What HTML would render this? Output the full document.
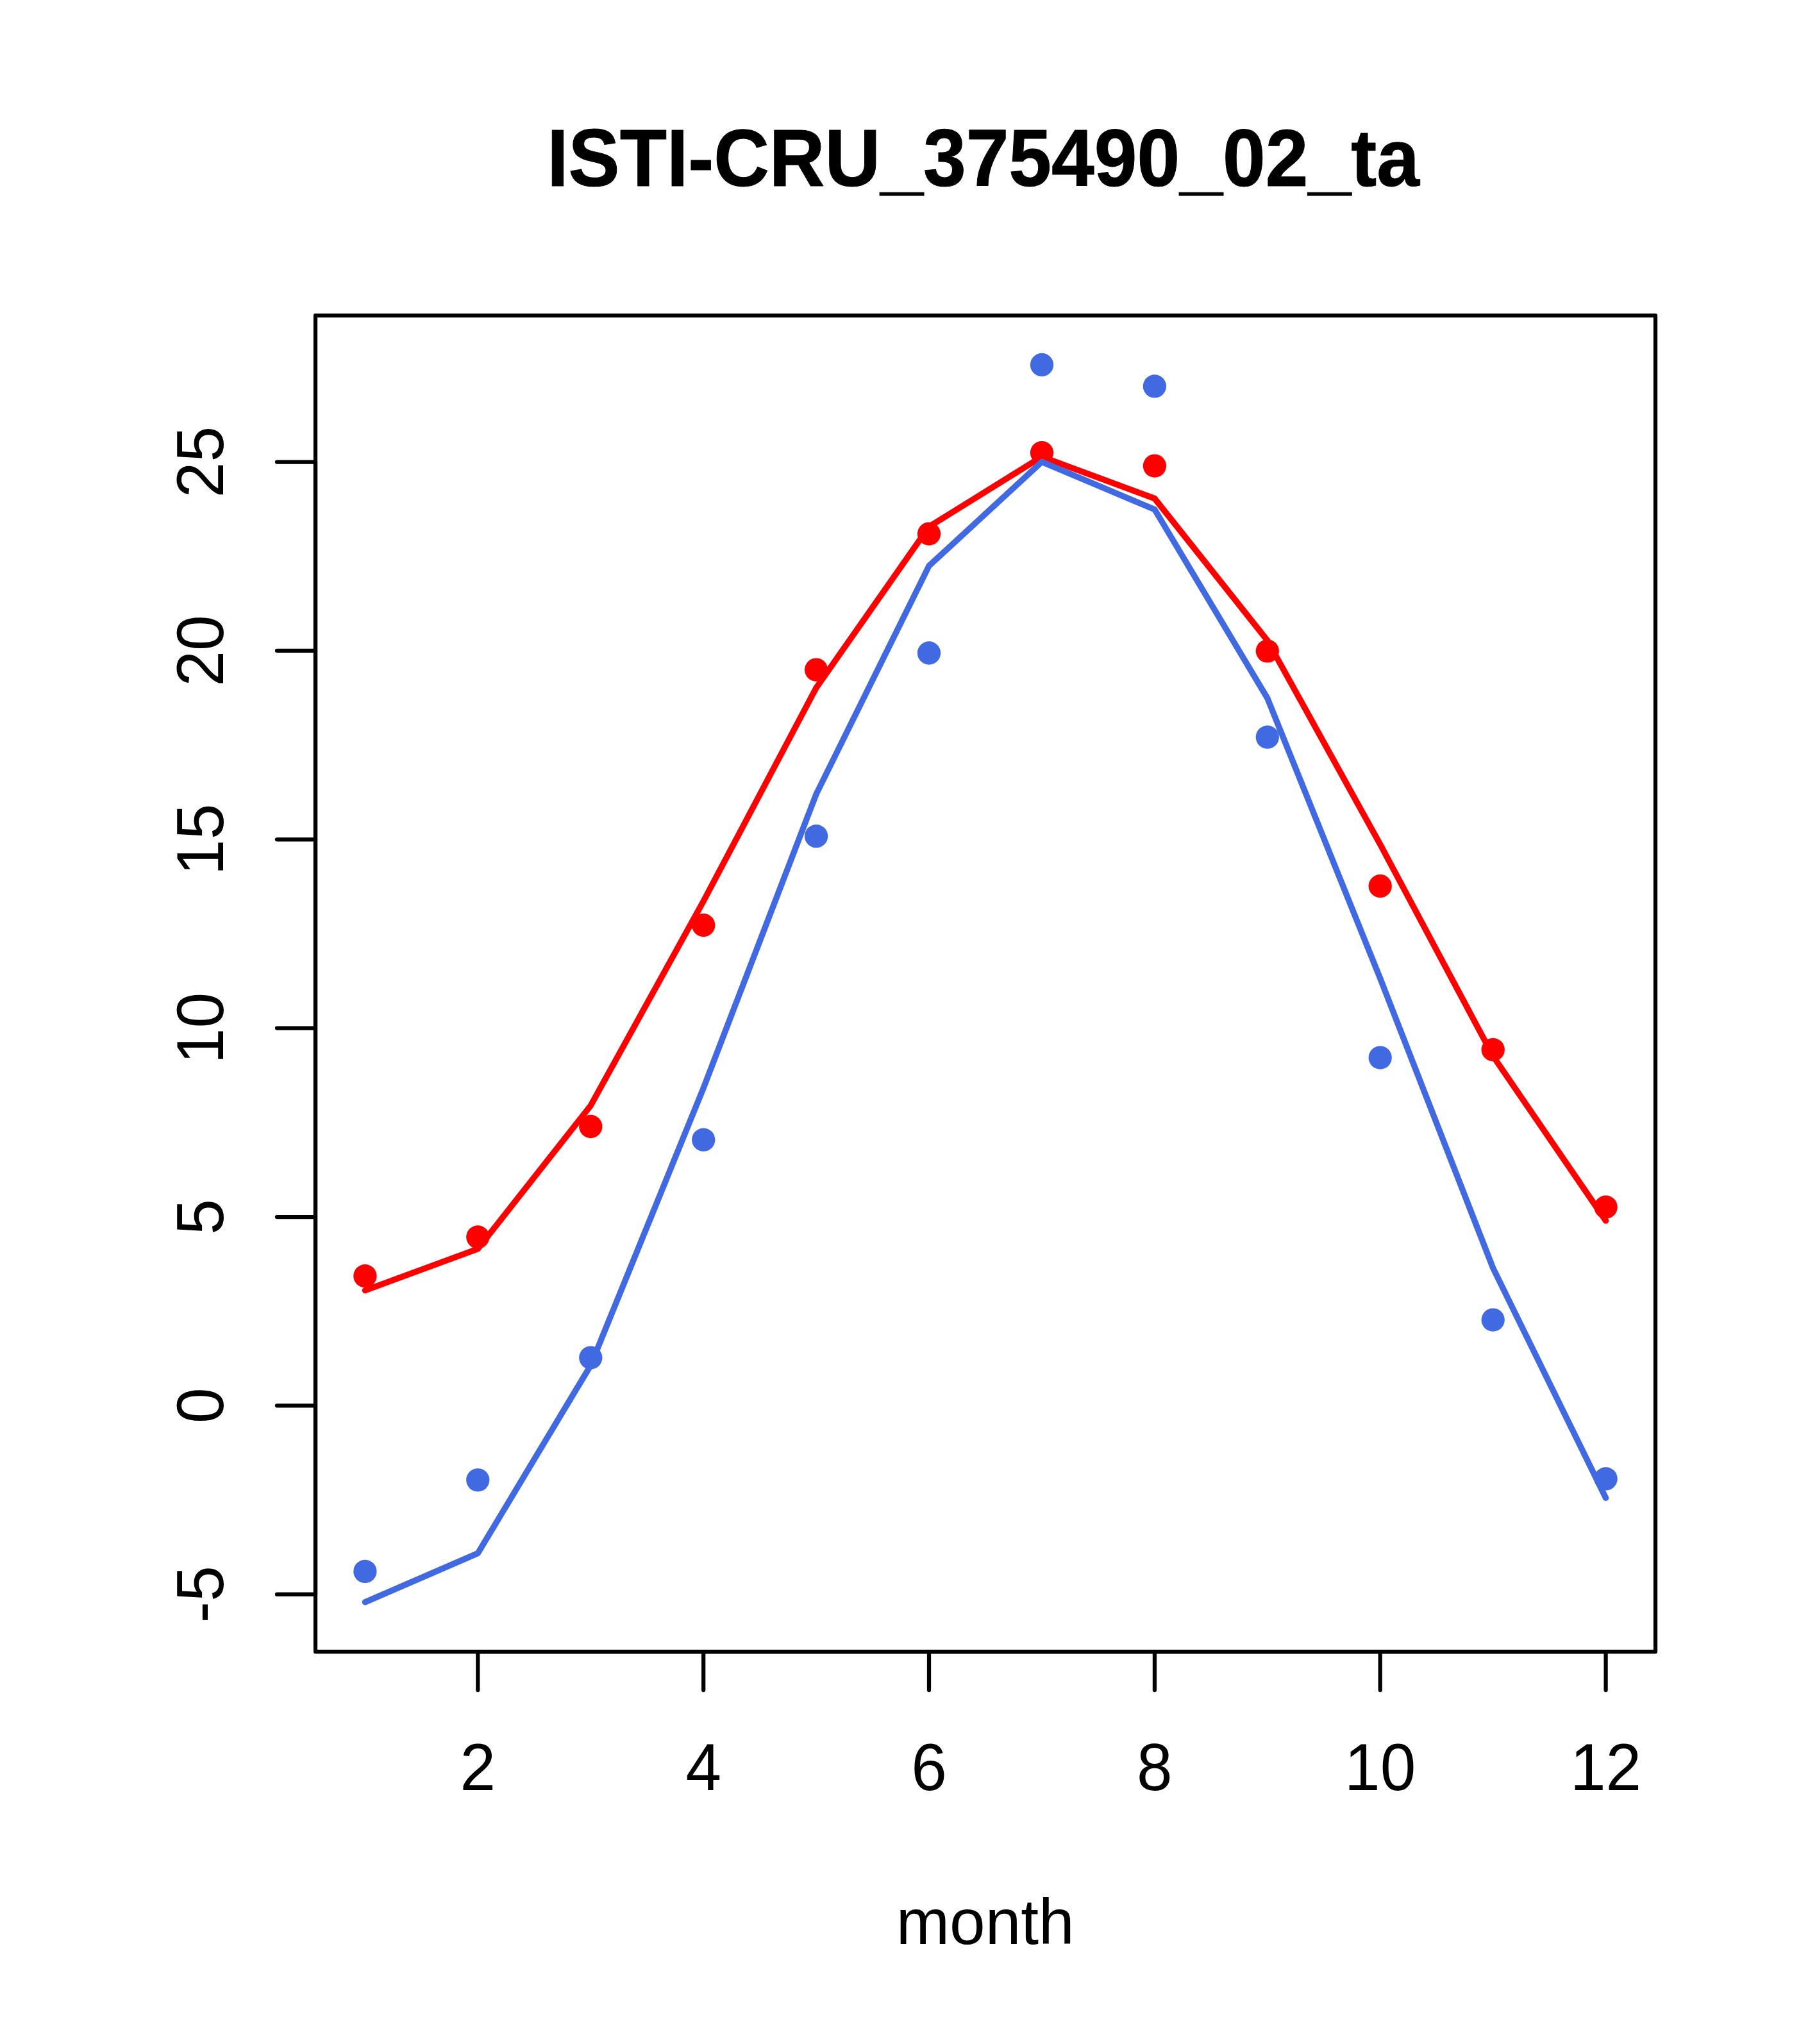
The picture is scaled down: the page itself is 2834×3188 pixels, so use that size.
<!DOCTYPE html>
<html lang="en">
<head>
<meta charset="utf-8">
<title>ISTI-CRU_375490_02_ta</title>
<style>
html,body{margin:0;padding:0;background:#fff;width:2834px;height:3188px;overflow:hidden;}
svg{display:block;}
text{font-family:"Liberation Sans",Arial,Helvetica,sans-serif;fill:#000;}
.ax{font-size:100px;}
.ttl{font-size:120px;font-weight:bold;stroke:#000;stroke-width:1px;stroke-linejoin:round;}
.ln{fill:none;stroke-linecap:round;stroke-linejoin:round;}
</style>
</head>
<body>
<svg width="2834" height="3188" viewBox="0 0 2834 3188">
<rect x="0" y="0" width="2834" height="3188" fill="#ffffff"/>
<polyline class="ln" stroke="#ff0000" stroke-width="9.4" points="569.4,2012.7 745.3,1947.8 921.3,1724.3 1097.2,1405.5 1273.1,1072.7 1449.0,821.5 1625.0,712.3 1800.9,777.5 1976.8,999.0 2152.7,1317.0 2328.7,1647.1 2504.6,1904.0"/>
<g fill="#ff0000">
<circle cx="569.4" cy="1990.2" r="18.15"/>
<circle cx="745.3" cy="1929.4" r="18.15"/>
<circle cx="921.3" cy="1757.0" r="18.15"/>
<circle cx="1097.2" cy="1443.0" r="18.15"/>
<circle cx="1273.1" cy="1044.6" r="18.15"/>
<circle cx="1449.0" cy="832.6" r="18.15"/>
<circle cx="1625.0" cy="706.1" r="18.15"/>
<circle cx="1800.9" cy="726.6" r="18.15"/>
<circle cx="1976.8" cy="1015.4" r="18.15"/>
<circle cx="2152.7" cy="1382.0" r="18.15"/>
<circle cx="2328.7" cy="1637.2" r="18.15"/>
<circle cx="2504.6" cy="1882.7" r="18.15"/>
</g>
<polyline class="ln" stroke="#4169e1" stroke-width="9.4" points="569.4,2498.9 745.3,2422.6 921.3,2129.5 1097.2,1697.0 1273.1,1238.5 1449.0,882.5 1625.0,720.3 1800.9,794.7 1976.8,1089.0 2152.7,1526.0 2328.7,1977.8 2504.6,2336.4"/>
<g fill="#4169e1">
<circle cx="569.4" cy="2450.9" r="18.15"/>
<circle cx="745.3" cy="2308.3" r="18.15"/>
<circle cx="921.3" cy="2117.6" r="18.15"/>
<circle cx="1097.2" cy="1777.7" r="18.15"/>
<circle cx="1273.1" cy="1304.2" r="18.15"/>
<circle cx="1449.0" cy="1018.5" r="18.15"/>
<circle cx="1625.0" cy="569.0" r="18.15"/>
<circle cx="1800.9" cy="602.4" r="18.15"/>
<circle cx="1976.8" cy="1149.7" r="18.15"/>
<circle cx="2152.7" cy="1649.6" r="18.15"/>
<circle cx="2328.7" cy="2058.6" r="18.15"/>
<circle cx="2504.6" cy="2306.4" r="18.15"/>
</g>
<g class="ln" stroke="#000" stroke-width="6.25">
<rect x="492" y="492" width="2090" height="2084"/>
<path d="M745.3,2576 H2504.6"/>
<path d="M745.3,2576 V2636"/>
<path d="M1097.2,2576 V2636"/>
<path d="M1449.0,2576 V2636"/>
<path d="M1800.9,2576 V2636"/>
<path d="M2152.7,2576 V2636"/>
<path d="M2504.6,2576 V2636"/>
<path d="M492,2486.7 V720.6"/>
<path d="M492,2486.7 H432"/>
<path d="M492,2192.3 H432"/>
<path d="M492,1898.0 H432"/>
<path d="M492,1603.6 H432"/>
<path d="M492,1309.3 H432"/>
<path d="M492,1014.9 H432"/>
<path d="M492,720.6 H432"/>
</g>
<text class="ax" text-anchor="middle" transform="translate(745.3,2792.2) scale(1,1.035)">2</text>
<text class="ax" text-anchor="middle" transform="translate(1097.2,2792.2) scale(1,1.035)">4</text>
<text class="ax" text-anchor="middle" transform="translate(1449.0,2792.2) scale(1,1.035)">6</text>
<text class="ax" text-anchor="middle" transform="translate(1800.9,2792.2) scale(1,1.035)">8</text>
<text class="ax" text-anchor="middle" transform="translate(2152.7,2792.2) scale(1,1.035)">10</text>
<text class="ax" text-anchor="middle" transform="translate(2504.6,2792.2) scale(1,1.035)">12</text>
<text class="ax" text-anchor="middle" transform="translate(348,2486.7) rotate(-90) scale(1,1.03)">-5</text>
<text class="ax" text-anchor="middle" transform="translate(348,2192.3) rotate(-90) scale(1,1.03)">0</text>
<text class="ax" text-anchor="middle" transform="translate(348,1898.0) rotate(-90) scale(1,1.03)">5</text>
<text class="ax" text-anchor="middle" transform="translate(348,1603.6) rotate(-90) scale(1,1.03)">10</text>
<text class="ax" text-anchor="middle" transform="translate(348,1309.3) rotate(-90) scale(1,1.03)">15</text>
<text class="ax" text-anchor="middle" transform="translate(348,1014.9) rotate(-90) scale(1,1.03)">20</text>
<text class="ax" text-anchor="middle" transform="translate(348,720.6) rotate(-90) scale(1,1.03)">25</text>
<text class="ax" text-anchor="middle" x="1536.7" y="3031.8">month</text>
<text class="ttl" text-anchor="middle" transform="translate(1533.6,289.5) scale(1,1.045)">ISTI-CRU_375490_02_ta</text>
</svg>
</body>
</html>
